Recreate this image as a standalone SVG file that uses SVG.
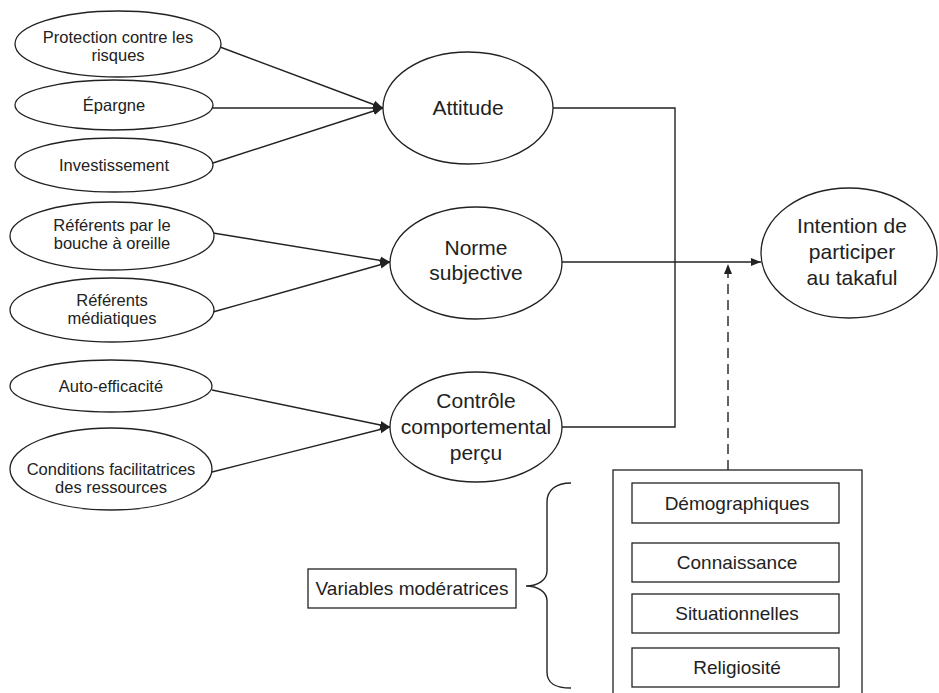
<svg xmlns="http://www.w3.org/2000/svg" width="939" height="693" viewBox="0 0 939 693">
<style>
  .shape { fill: #fff; stroke: #222; stroke-width: 1.3; }
  .conn { fill: none; stroke: #222; stroke-width: 1.4; }
  .dash { fill: none; stroke: #222; stroke-width: 1.4; stroke-dasharray: 10 6; }
  text { font-family: "Liberation Sans", Arial, sans-serif; fill: #222; text-anchor: middle; }
  .s { font-size: 16.5px; }
  .l { font-size: 21px; }
  .b { font-size: 19px; }
</style>
<defs>
  <marker id="arr" viewBox="0 0 10 10" refX="10" refY="5" markerWidth="10" markerHeight="10" markerUnits="userSpaceOnUse" orient="auto">
    <path d="M0,1 L10,5 L0,9 Z" fill="#222"/>
  </marker>
</defs>
<rect width="939" height="693" fill="#fff"/>

<g id="connectors">
  <line class="conn" x1="220" y1="47" x2="383" y2="108" marker-end="url(#arr)"/>
  <line class="conn" x1="213" y1="108" x2="383" y2="108" marker-end="url(#arr)"/>
  <line class="conn" x1="213" y1="163" x2="383" y2="108" marker-end="url(#arr)"/>
  <line class="conn" x1="213" y1="233" x2="390" y2="262" marker-end="url(#arr)"/>
  <line class="conn" x1="213" y1="312" x2="390" y2="262" marker-end="url(#arr)"/>
  <line class="conn" x1="212" y1="390" x2="390" y2="427" marker-end="url(#arr)"/>
  <line class="conn" x1="212" y1="472" x2="390" y2="427" marker-end="url(#arr)"/>
  <polyline class="conn" points="553,108 675,108 675,427 562,427"/>
  <line class="conn" x1="562" y1="262" x2="761" y2="262" marker-end="url(#arr)"/>
  <line class="dash" x1="728" y1="470" x2="728" y2="264" marker-end="url(#arr)"/>
  <path class="conn" d="M571,483 C556,483 547,490 547,502 L547,571 C547,580 538,586 526,586 C538,586 547,592 547,601 L547,672 C547,684 556,688 571,688"/>
</g>

<g id="n-protection">
  <ellipse class="shape" cx="118" cy="44" rx="103" ry="33"/>
  <text class="s" x="118" y="43">Protection contre les</text>
  <text class="s" x="118" y="61">risques</text>
</g>
<g id="n-epargne">
  <ellipse class="shape" cx="114" cy="105" rx="99" ry="25"/>
  <text class="s" x="114" y="111">Épargne</text>
</g>
<g id="n-investissement">
  <ellipse class="shape" cx="114" cy="165" rx="99" ry="27"/>
  <text class="s" x="114" y="171">Investissement</text>
</g>
<g id="n-referents-bouche">
  <ellipse class="shape" cx="112" cy="236" rx="102" ry="34"/>
  <text class="s" x="112" y="231">Référents par le</text>
  <text class="s" x="112" y="249">bouche à oreille</text>
</g>
<g id="n-referents-media">
  <ellipse class="shape" cx="112" cy="310" rx="102" ry="32"/>
  <text class="s" x="112" y="306">Référents</text>
  <text class="s" x="112" y="324">médiatiques</text>
</g>
<g id="n-auto-efficacite">
  <ellipse class="shape" cx="111" cy="386" rx="101" ry="26"/>
  <text class="s" x="111" y="392">Auto-efficacité</text>
</g>
<g id="n-conditions">
  <ellipse class="shape" cx="111" cy="469" rx="101" ry="41"/>
  <text class="s" x="111" y="475">Conditions facilitatrices</text>
  <text class="s" x="111" y="493">des ressources</text>
</g>

<g id="n-attitude">
  <ellipse class="shape" cx="468" cy="108" rx="85" ry="56"/>
  <text class="l" x="468" y="115">Attitude</text>
</g>
<g id="n-norme">
  <ellipse class="shape" cx="476" cy="263" rx="86" ry="56"/>
  <text class="l" x="476" y="255">Norme</text>
  <text class="l" x="476" y="280">subjective</text>
</g>
<g id="n-controle">
  <ellipse class="shape" cx="476" cy="427" rx="86" ry="55"/>
  <text class="l" x="476" y="408">Contrôle</text>
  <text class="l" x="476" y="434">comportemental</text>
  <text class="l" x="476" y="460">perçu</text>
</g>
<g id="n-intention">
  <ellipse class="shape" cx="849" cy="253" rx="88" ry="65"/>
  <text class="l" x="852" y="233">Intention de</text>
  <text class="l" x="852" y="259">participer</text>
  <text class="l" x="852" y="285">au takaful</text>
</g>

<g id="n-variables">
  <rect class="shape" x="308" y="569" width="208" height="39"/>
  <text class="b" x="412" y="595">Variables modératrices</text>
</g>
<g id="n-moderators">
  <rect class="shape" x="613" y="470" width="249" height="240"/>
</g>
<g id="n-demographiques">
  <rect class="shape" x="632" y="483" width="207" height="40"/>
  <text class="b" x="737" y="510">Démographiques</text>
</g>
<g id="n-connaissance">
  <rect class="shape" x="632" y="543" width="207" height="39"/>
  <text class="b" x="737" y="569">Connaissance</text>
</g>
<g id="n-situationnelles">
  <rect class="shape" x="632" y="594" width="207" height="39"/>
  <text class="b" x="737" y="620">Situationnelles</text>
</g>
<g id="n-religiosite">
  <rect class="shape" x="632" y="648" width="207" height="39"/>
  <text class="b" x="737" y="674">Religiosité</text>
</g>
</svg>
